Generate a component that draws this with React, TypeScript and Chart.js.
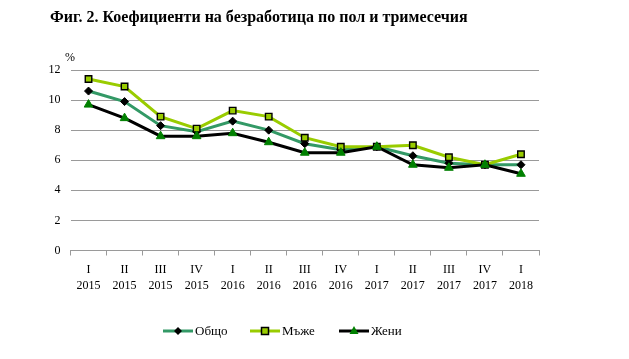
import React, { useEffect, useRef } from "react";
import { Chart, registerables } from "chart.js";

Chart.register(...registerables);

const quarters = ["I", "II", "III", "IV", "I", "II", "III", "IV", "I", "II", "III", "IV", "I"];
const years = ["2015", "2015", "2015", "2015", "2016", "2016", "2016", "2016", "2017", "2017", "2017", "2017", "2018"];
const total = [10.6, 9.9, 8.3, 7.9, 8.6, 8.0, 7.1, 6.7, 6.9, 6.3, 5.8, 5.7, 5.7];
const men = [11.4, 10.9, 8.9, 8.1, 9.3, 8.9, 7.5, 6.9, 6.9, 7.0, 6.2, 5.7, 6.4];
const women = [9.7, 8.8, 7.6, 7.6, 7.8, 7.2, 6.5, 6.5, 6.9, 5.7, 5.5, 5.7, 5.1];
const seriesNames = ["Общо", "Мъже", "Жени"];
const yTicks = [0, 2, 4, 6, 8, 10, 12];
const title = "Фиг. 2. Коефициенти на безработица по пол и тримесечия";
const unit = "%";

const SERIF = "'Liberation Serif', 'Times New Roman', serif";

const colors = {
  total: "#339966",
  men: "#99CC00",
  women: "#000000",
  triangle: "#008000",
  grid: "#9a9a9a",
};

const decorPlugin = {
  id: "decor",
  afterDraw(chart: any) {
    const ctx = chart.ctx;
    ctx.save();
    // title
    ctx.fillStyle = "#000";
    ctx.font = `bold 16px ${SERIF}`;
    ctx.textAlign = "left";
    ctx.textBaseline = "alphabetic";
    ctx.fillText(title, 50, 22);
    // unit
    ctx.font = `12px ${SERIF}`;
    ctx.textAlign = "center";
    ctx.textBaseline = "middle";
    ctx.fillText(unit, 70, 58);

    // legend
    const items = [
      { x: 163, name: seriesNames[0], color: colors.total, marker: "diamond" },
      { x: 250, name: seriesNames[1], color: colors.men, marker: "square" },
      { x: 339, name: seriesNames[2], color: colors.women, marker: "triangle" },
    ];
    const ly = 331;
    items.forEach((it) => {
      ctx.strokeStyle = it.color;
      ctx.lineWidth = 3;
      ctx.beginPath();
      ctx.moveTo(it.x, ly);
      ctx.lineTo(it.x + 30, ly);
      ctx.stroke();
      const cx = it.x + 15;
      if (it.marker === "diamond") {
        ctx.fillStyle = "#000";
        ctx.beginPath();
        ctx.moveTo(cx, ly - 4);
        ctx.lineTo(cx + 4, ly);
        ctx.lineTo(cx, ly + 4);
        ctx.lineTo(cx - 4, ly);
        ctx.closePath();
        ctx.fill();
      } else if (it.marker === "square") {
        ctx.fillStyle = colors.men;
        ctx.strokeStyle = "#000";
        ctx.lineWidth = 1.5;
        ctx.fillRect(cx - 3.5, ly - 3.5, 7, 7);
        ctx.strokeRect(cx - 3.5, ly - 3.5, 7, 7);
      } else {
        ctx.fillStyle = colors.triangle;
        ctx.beginPath();
        ctx.moveTo(cx, ly - 5);
        ctx.lineTo(cx + 4.5, ly + 3);
        ctx.lineTo(cx - 4.5, ly + 3);
        ctx.closePath();
        ctx.fill();
      }
      ctx.fillStyle = "#000";
      ctx.font = `13px ${SERIF}`;
      ctx.textAlign = "left";
      ctx.textBaseline = "middle";
      ctx.fillText(it.name, it.x + 32, ly + 1);
    });
    ctx.restore();
  },
};

export default function App() {
  const ref = useRef<HTMLCanvasElement>(null);
  useEffect(() => {
    if (!ref.current) return;
    const labels = quarters.map((q, i) => [q, years[i]]);
    const chart = new Chart(ref.current, {
      type: "line",
      data: {
        labels,
        datasets: [
          {
            label: seriesNames[0],
            data: total,
            borderColor: colors.total,
            borderWidth: 3,
            pointStyle: "rectRot",
            pointRadius: 4,
            pointBackgroundColor: "#000",
            pointBorderColor: "#000",
            pointBorderWidth: 1,
            order: 2,
            tension: 0,
          },
          {
            label: seriesNames[1],
            data: men,
            borderColor: colors.men,
            borderWidth: 3,
            pointStyle: "rect",
            pointRadius: 4.6,
            pointBackgroundColor: colors.men,
            pointBorderColor: "#000",
            pointBorderWidth: 1.4,
            order: 1,
            tension: 0,
          },
          {
            label: seriesNames[2],
            data: women,
            borderColor: colors.women,
            borderWidth: 3,
            pointStyle: "triangle",
            pointRadius: 5,
            pointBackgroundColor: colors.triangle,
            pointBorderColor: colors.triangle,
            pointBorderWidth: 1,
            order: 0,
            tension: 0,
          },
        ],
      },
      options: {
        responsive: false,
        animation: false,
        layout: { padding: { top: 70, left: 0, right: 90, bottom: 0 } },
        plugins: {
          legend: { display: false },
          tooltip: { enabled: false },
          title: { display: false },
        },
        scales: {
          x: {
            type: "category",
            offset: true,
            afterFit: (s: any) => {
              s.height = 108.5;
            },
            grid: {
              offset: true,
              drawOnChartArea: false,
              drawTicks: true,
              tickLength: 5,
              color: colors.grid,
            },
            border: { display: true, color: colors.grid, width: 1 },
            ticks: {
              color: "#000",
              font: { family: SERIF, size: 12, lineHeight: 1.3 },
              padding: 7,
              maxRotation: 0,
              autoSkip: false,
            },
          },
          y: {
            min: 0,
            max: 12,
            afterFit: (s: any) => {
              s.width = 70.5;
            },
            afterBuildTicks: (s: any) => {
              s.ticks = yTicks.map((v) => ({ value: v }));
            },
            grid: { color: colors.grid, lineWidth: 1, drawTicks: false },
            border: { display: false },
            ticks: {
              color: "#000",
              font: { family: SERIF, size: 12 },
              padding: 10,
            },
          },
        },
      },
      plugins: [decorPlugin],
    });
    return () => chart.destroy();
  }, []);
  return (
    <div style={{ position: "fixed", left: 0, top: 0, width: 629, height: 359, background: "#fff" }}>
      <canvas ref={ref} width={629} height={359} />
    </div>
  );
}
